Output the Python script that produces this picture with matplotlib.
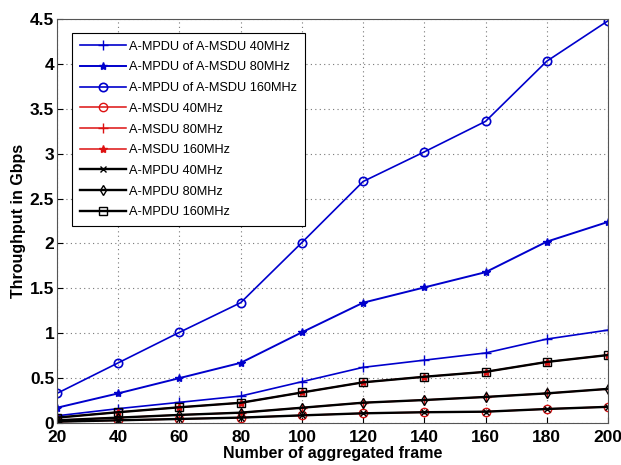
import numpy as np
import matplotlib.pyplot as plt

plt.rcParams['font.family'] = ['Liberation Sans', 'DejaVu Sans']

frames = [20, 40, 60, 80, 100, 120, 140, 160, 180, 200]

# A-MPDU of A-MSDU
ampdu_amsdu_40 = [0.08, 0.16, 0.23, 0.30, 0.46, 0.62, 0.70, 0.78, 0.935, 1.035]
ampdu_amsdu_80 = [0.17, 0.33, 0.50, 0.67, 1.01, 1.34, 1.51, 1.68, 2.02, 2.24]
ampdu_amsdu_160 = [0.33, 0.67, 1.01, 1.34, 2.01, 2.69, 3.02, 3.36, 4.03, 4.48]
# A-MSDU
amsdu_40 = [0.015, 0.03, 0.045, 0.06, 0.085, 0.108, 0.12, 0.126, 0.156, 0.18]
amsdu_80 = [0.03, 0.06, 0.09, 0.115, 0.17, 0.226, 0.256, 0.29, 0.33, 0.38]
amsdu_160 = [0.06, 0.12, 0.175, 0.225, 0.34, 0.453, 0.515, 0.57, 0.68, 0.757]
# A-MPDU
ampdu_40 = amsdu_40
ampdu_80 = amsdu_80
ampdu_160 = amsdu_160

fig = plt.figure(figsize=(6.21, 4.65), dpi=100)
ax = fig.add_axes([57/621, 42/465, 551/621, 404/465])

blue = '#0000cc'
ax.plot(frames, ampdu_amsdu_40, color=blue, marker='+', ms=7, lw=1.2, label='A-MPDU of A-MSDU 40MHz')
ax.plot(frames, ampdu_amsdu_80, color=blue, marker='*', ms=6, lw=1.4, label='A-MPDU of A-MSDU 80MHz')
ax.plot(frames, ampdu_amsdu_160, color=blue, marker='o', ms=6, mfc='none', mew=1.2, lw=1.2, label='A-MPDU of A-MSDU 160MHz')
ax.plot(frames, amsdu_40, color='#dd1111', marker='o', ms=6, mfc='none', lw=1.1, label='A-MSDU 40MHz')
ax.plot(frames, amsdu_80, color='#dd1111', marker='+', ms=7, lw=1.1, label='A-MSDU 80MHz')
ax.plot(frames, amsdu_160, color='#dd1111', marker='*', ms=6, lw=1.1, label='A-MSDU 160MHz')
ax.plot(frames, ampdu_40, color='black', marker='x', ms=4, lw=1.7, label='A-MPDU 40MHz')
ax.plot(frames, ampdu_80, color='black', marker='d', ms=5, mfc='none', lw=1.7, label='A-MPDU 80MHz')
ax.plot(frames, ampdu_160, color='black', marker='s', ms=6, mfc='none', lw=1.7, label='A-MPDU 160MHz')

ax.set_xlim(20, 200)
ax.set_ylim(0, 4.5)
ax.set_xticks(frames)
ax.set_yticks(np.arange(0, 4.51, 0.5))
ax.set_yticklabels(['0', '0.5', '1', '1.5', '2', '2.5', '3', '3.5', '4', '4.5'])
ax.tick_params(labelsize=12.5, direction='in', length=4)
ax.tick_params(axis='x', pad=5)
ax.tick_params(axis='y', pad=2)
for lab in ax.get_xticklabels() + ax.get_yticklabels():
    lab.set_fontweight('bold')
ax.grid(True, linestyle=(0, (1, 3)), color='#777777', lw=0.8)
for s in ax.spines.values():
    s.set_color('#555555')

ax.set_xlabel('Number of aggregated frame', fontsize=11.5, fontweight='bold', labelpad=1)
ax.set_ylabel('Throughput in Gbps', fontsize=11.5, fontweight='bold', labelpad=3)

leg = ax.legend(loc='upper left', bbox_to_anchor=(0.027, 0.965), borderaxespad=0, fontsize=9.2,
                handlelength=3.6, fancybox=False, framealpha=1, edgecolor='black',
                borderpad=0.6, labelspacing=0.68, handletextpad=0.3)
leg.get_frame().set_linewidth(0.8)

fig.savefig('out.png', dpi=100)
